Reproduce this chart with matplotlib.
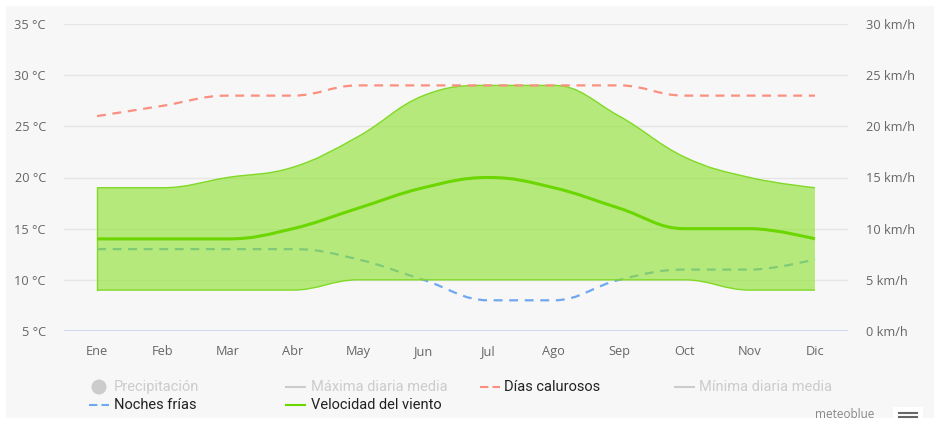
import numpy as np
import matplotlib
matplotlib.use('Agg')
import matplotlib.pyplot as plt
from matplotlib.path import Path
from matplotlib.patches import PathPatch, Rectangle, Ellipse
from matplotlib.lines import Line2D

months = ['Ene', 'Feb', 'Mar', 'Abr', 'May', 'Jun', 'Jul', 'Ago', 'Sep', 'Oct', 'Nov', 'Dic']
hot_days = [26, 27, 28, 28, 29, 29, 29, 29, 29, 28, 28, 28]      # °C
cold_nights = [13, 13, 13, 13, 12, 10, 8, 8, 10, 11, 11, 12]     # °C
wind_mean = [9, 9, 9, 10, 12, 14, 15, 14, 12, 10, 10, 9]         # km/h
wind_max = [14, 14, 15, 16, 19, 23, 24, 24, 21, 17, 15, 14]      # km/h
wind_min = [4, 4, 4, 4, 5, 5, 5, 5, 5, 5, 4, 4]                  # km/h
temp_ticks = [5, 10, 15, 20, 25, 30, 35]
wind_ticks = [0, 5, 10, 15, 20, 25, 30]

W, H = 934, 421
BG = '#f7f7f7'


def spline_verts(xs, ys):
    # Highcharts-style spline: bezier control points with smoothing 1.5
    n = len(xs)
    lc = [(xs[i], ys[i]) for i in range(n)]
    rc = [(xs[i], ys[i]) for i in range(n)]
    s = 1.5
    d = s + 1
    for i in range(1, n - 1):
        px, py = xs[i], ys[i]
        lx, ly = xs[i - 1], ys[i - 1]
        nx, ny = xs[i + 1], ys[i + 1]
        lcx = (s * px + lx) / d
        lcy = (s * py + ly) / d
        rcx = (s * px + nx) / d
        rcy = (s * py + ny) / d
        corr = (rcy - lcy) * (rcx - px) / (rcx - lcx) + py - rcy
        lcy += corr
        rcy += corr
        if lcy > ly and lcy > py:
            lcy = max(ly, py)
            rcy = 2 * py - lcy
        elif lcy < ly and lcy < py:
            lcy = min(ly, py)
            rcy = 2 * py - lcy
        if rcy > ny and rcy > py:
            rcy = max(ny, py)
            lcy = 2 * py - rcy
        elif rcy < ny and rcy < py:
            rcy = min(ny, py)
            lcy = 2 * py - rcy
        lc[i] = (lcx, lcy)
        rc[i] = (rcx, rcy)
    verts = [(xs[0], ys[0])]
    for i in range(1, n):
        verts += [rc[i - 1], lc[i], (xs[i], ys[i])]
    return verts


def spline_path(xs, ys):
    v = spline_verts(xs, ys)
    codes = [Path.MOVETO] + [Path.CURVE4] * (len(v) - 1)
    return Path(v, codes)


fig = plt.figure(figsize=(W / 100, H / 100), dpi=100)
fig.patch.set_facecolor('white')
fig.add_artist(Rectangle((6 / W, 3 / H), 1, 1 - 9 / H, transform=fig.transFigure,
                         facecolor=BG, edgecolor='none', zorder=-10))

ax = fig.add_axes([64 / W, 1 - 331 / H, (848 - 64) / W, (331 - 24) / H])
ax.set_facecolor('none')
ax2 = ax.twinx()
ax2.set_facecolor('none')
ax.set_zorder(2)
ax2.set_zorder(1)

x = np.arange(len(months))
ax.set_xlim(-0.506, 11.506)
ax.set_ylim(5, 35)
ax2.set_ylim(0, 30)

for t in temp_ticks[1:]:
    ax2.axhline(t - 5, color='#e6e6e6', lw=1, zorder=0)
ax2.axhline(0, color='#ccd6eb', lw=1.3, zorder=0)

# wind band + mean on km/h axis
up = spline_verts(list(x), wind_max)
lo = spline_verts(list(x), wind_min)
band = up + [lo[-1]] + lo[::-1][1:] + [up[0]]
codes = ([Path.MOVETO] + [Path.CURVE4] * (len(up) - 1) + [Path.LINETO]
         + [Path.CURVE4] * (len(lo) - 1) + [Path.CLOSEPOLY])
ax2.add_patch(PathPatch(Path(band, codes), facecolor='#8be128', alpha=0.6,
                        edgecolor='none', zorder=3))
ax2.add_patch(PathPatch(spline_path(x, wind_max), facecolor='none', edgecolor='#80d926', lw=1, zorder=4))
ax2.add_patch(PathPatch(spline_path(x, wind_min), facecolor='none', edgecolor='#80d926', lw=1, zorder=4))
ax2.plot([x[0], x[0]], [wind_min[0], wind_max[0]], color='#80d926', lw=1, zorder=4)
ax2.add_patch(PathPatch(spline_path(x, wind_mean), facecolor='none', edgecolor='#6bd600', lw=2.2, zorder=5))

# temperatures, cold nights beneath the band
ax2.add_patch(PathPatch(spline_path(x, [c - 5 for c in cold_nights]), facecolor='none',
                        edgecolor='#6fa8ee', lw=1.6, linestyle=(0, (4, 3)), zorder=2))
ax2.add_patch(PathPatch(spline_path(x, [h - 5 for h in hot_days]), facecolor='none',
                        edgecolor='#fb8f80', lw=1.6, linestyle=(0, (4, 3)), zorder=6))

tick_font = dict(family=['Open Sans', 'DejaVu Sans'], size=9.2, color='#666666')
ax.set_yticks(temp_ticks)
ax.set_yticklabels([f'{t} °C' for t in temp_ticks], **tick_font)
ax2.set_yticks(wind_ticks)
ax2.set_yticklabels([f'{t} km/h' for t in wind_ticks], **tick_font)
ax.set_xticks(x)
ax.set_xticklabels(months, **tick_font)
ax.tick_params(axis='y', length=0, pad=13)
ax2.tick_params(axis='y', length=0, pad=13)
ax.tick_params(axis='x', length=0, pad=10)
for a in (ax, ax2):
    for sp in a.spines.values():
        sp.set_visible(False)


def fp(px, py):
    return (px / W, 1 - py / H)


leg_font = dict(family=['Roboto', 'DejaVu Sans'], size=10.5, va='center')
grey = '#cccccc'
# row 1
fig.add_artist(Ellipse(fp(99, 387), 15 / W, 15 / H, transform=fig.transFigure, color=grey, ec='none'))
fig.text(*fp(114, 387), 'Precipitación', color=grey, **leg_font)
fig.add_artist(Line2D([286 / W, 305 / W], [1 - 387 / H] * 2, color=grey, lw=1.5))
fig.text(*fp(311, 387), 'Máxima diaria media', color=grey, **leg_font)
fig.add_artist(Line2D([480 / W, 500 / W], [1 - 387 / H] * 2, color='#fb8f80', lw=1.5,
                      linestyle=(0, (4, 2))))
fig.text(*fp(504, 387), 'Días calurosos', color='#222222', **leg_font)
fig.add_artist(Line2D([675 / W, 694 / W], [1 - 387 / H] * 2, color=grey, lw=1.5))
fig.text(*fp(699, 387), 'Mínima diaria media', color=grey, **leg_font)
# row 2
fig.add_artist(Line2D([89 / W, 109 / W], [1 - 405 / H] * 2, color='#6fa8ee', lw=1.5,
                      linestyle=(0, (4, 2))))
fig.text(*fp(114, 405), 'Noches frías', color='#222222', **leg_font)
fig.add_artist(Line2D([286 / W, 305 / W], [1 - 405 / H] * 2, color='#6bd600', lw=1.5))
fig.text(*fp(311, 405), 'Velocidad del viento', color='#222222', **leg_font)

# credit and menu button at bottom right
fig.text(*fp(815, 415), 'meteoblue', color='#888888', family=['Open Sans', 'DejaVu Sans'],
         size=8.5, va='center')
fig.add_artist(Rectangle(fp(893, 421), 30 / W, 14 / H, transform=fig.transFigure,
                         facecolor='white', edgecolor='none'))
for yy in (413, 417):
    fig.add_artist(Line2D([899 / W, 917 / W], [1 - yy / H] * 2, color='#666666', lw=1.5))

fig.savefig('out.png', dpi=100, facecolor=fig.get_facecolor())
